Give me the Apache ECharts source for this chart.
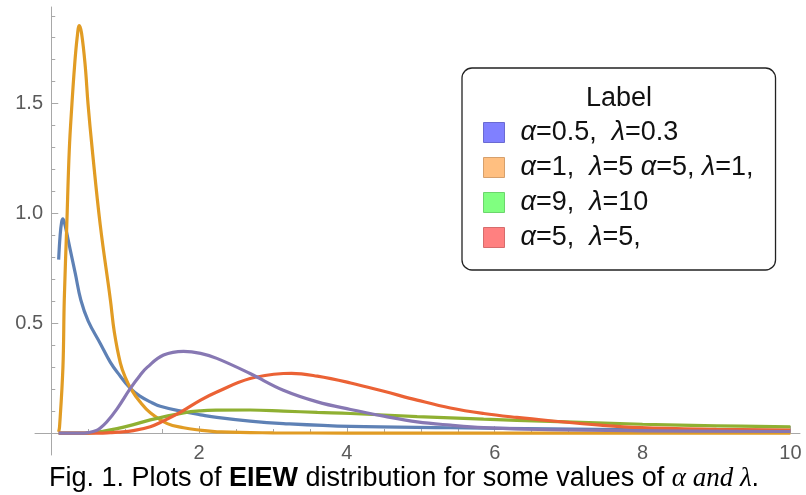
<!DOCTYPE html>
<html>
<head>
<meta charset="utf-8">
<script src="https://cdn.jsdelivr.net/npm/echarts@6/dist/echarts.min.js"></script>
<style>
html,body{margin:0;padding:0;background:#fff;}
#chart{width:806px;height:495px;}
</style>
</head>
<body>
<div id="chart"></div>
<script>
// ---- Data ----
const seriesNames = ['α=0.5,  λ=0.3', 'α=1,  λ=5 α=5, λ=1,', 'α=9,  λ=10', 'α=5,  λ=5,', 'α=5, λ=1'];
const legendNames = ['α=0.5,  λ=0.3', 'α=1,  λ=5 α=5, λ=1,', 'α=9,  λ=10', 'α=5,  λ=5,'];

const blueData = [[0.10,0.79],[0.12,0.90],[0.14,0.96],[0.157,0.975],[0.18,0.955],[0.21,0.91],[0.257,0.834],[0.325,0.727],[0.40,0.606],[0.50,0.51],[0.663,0.408],[0.80,0.322],[0.90,0.274],[1.07,0.203],[1.20,0.168],[1.34,0.142],[1.475,0.122],[1.79,0.097],[2.02,0.083],[2.24,0.071],[2.69,0.054],[3.14,0.043],[4.05,0.030],[5.40,0.024],[6.75,0.019],[8.0,0.015],[10.0,0.011]];
const orangeData = [[0.10,0.005],[0.112,0.028],[0.158,0.30],[0.176,0.606],[0.21,0.947],[0.244,1.29],[0.28,1.50],[0.315,1.67],[0.35,1.80],[0.379,1.855],[0.41,1.82],[0.46,1.67],[0.497,1.50],[0.555,1.29],[0.663,0.947],[0.80,0.606],[0.853,0.46],[0.934,0.32],[1.0,0.255],[1.08,0.20],[1.2,0.142],[1.34,0.092],[1.57,0.043],[1.79,0.024],[1.97,0.015],[2.3,0.005],[3.0,0.001],[4.0,0],[10.0,0]];
const greenData = [[0.10,0],[0.5,0],[0.6,0.003],[0.7,0.008],[0.89,0.02],[1.1,0.037],[1.34,0.06],[1.79,0.092],[2.02,0.101],[2.24,0.104],[2.69,0.105],[3.14,0.100],[3.60,0.094],[4.05,0.089],[4.95,0.075],[5.85,0.063],[6.75,0.053],[8.0,0.040],[9.0,0.033],[10.0,0.028]];
const redData = [[0.10,0],[0.65,0],[0.8,0.002],[0.9,0.004],[1.11,0.011],[1.34,0.029],[1.5,0.052],[1.75,0.095],[2.02,0.150],[2.24,0.187],[2.69,0.248],[3.14,0.271],[3.25,0.272],[3.60,0.259],[4.05,0.228],[4.5,0.19],[4.95,0.15],[5.40,0.114],[5.85,0.089],[6.30,0.071],[6.75,0.056],[7.43,0.036],[7.97,0.025],[9.0,0.017],[10.0,0.013]];
const purpleData = [[0.10,0],[0.45,0],[0.5,0.002],[0.6,0.01],[0.66,0.022],[0.75,0.05],[0.89,0.11],[1.07,0.203],[1.20,0.262],[1.30,0.30],[1.52,0.355],[1.79,0.372],[2.02,0.363],[2.24,0.34],[2.69,0.271],[3.14,0.195],[3.60,0.142],[4.05,0.107],[4.5,0.077],[4.95,0.051],[5.40,0.036],[5.85,0.025],[6.75,0.015],[8.0,0.010],[10.0,0.007]];

const xTickMinor = [0.5,1,1.5,2.5,3,3.5,4.5,5,5.5,6.5,7,7.5,8.5,9,9.5];
const xTickMajor = [2,4,6,8,10];
const xLabels = [2,4,6,8,10];
const yTickMinor = [0.1,0.2,0.3,0.4,0.6,0.7,0.8,0.9,1.1,1.2,1.3,1.4,1.6,1.7,1.8,1.9];
const yTickMajor = [0.5,1.0,1.5];
const yLabels = [0.5,1.0,1.5];

// ---- Styles ----
const lineColors = ['#5E81B5','#E19C24','#8FB032','#EB6235','#8778B3'];
const swatchFill = ['#8080ff','#ffbf80','#80ff80','#ff8080'];
const swatchBorder = ['#6a6ad2','#d6a06c','#6cd66c','#d66c6c'];
const dataSets = [blueData, orangeData, greenData, redData, purpleData];

const axisGray = '#a8a8a8';
const labelGray = '#5a5a5a';
const baseFont = "'Liberation Sans', Arial, sans-serif";

const xRange = {min: -0.22, max: 10.13};
const yRange = {min: -0.1, max: 1.94};

function xAxisDef(major) {
  return {
    type: 'value', position: 'bottom', min: xRange.min, max: xRange.max,
    axisLine: {show: !major, onZero: true, onZeroAxisIndex: 0, lineStyle: {color: axisGray, width: 1}},
    axisTick: {show: true, inside: true, length: major ? 7 : 4, customValues: major ? xTickMajor : xTickMinor,
               lineStyle: {color: axisGray, width: 1}},
    axisLabel: major ? {show: false} : {show: true, customValues: xLabels, color: labelGray, fontSize: 20,
               fontFamily: baseFont, margin: -12, formatter: v => String(v)},
    splitLine: {show: false}
  };
}
function yAxisDef(major) {
  return {
    type: 'value', position: 'left', min: yRange.min, max: yRange.max,
    axisLine: {show: !major, onZero: true, onZeroAxisIndex: 0, lineStyle: {color: axisGray, width: 1}},
    axisTick: {show: true, inside: true, length: major ? 7 : 4, customValues: major ? yTickMajor : yTickMinor,
               lineStyle: {color: axisGray, width: 1}},
    axisLabel: major ? {show: false} : {show: true, customValues: yLabels, color: labelGray, fontSize: 20,
               fontFamily: baseFont, margin: -8, formatter: v => v.toFixed(1)},
    splitLine: {show: false}
  };
}

const chart = echarts.init(document.getElementById('chart'), null, {renderer: 'canvas'});
const option = {
  animation: false,
  backgroundColor: '#ffffff',
  grid: {left: 35, right: 6, top: 7, bottom: 40, containLabel: false, outerBoundsMode: 'none'},
  xAxis: [xAxisDef(false), xAxisDef(true)],
  yAxis: [yAxisDef(false), yAxisDef(true)],
  legend: {
    show: true, orient: 'vertical', left: 462, top: 68,
    selectedMode: false, icon: 'rect', itemWidth: 21, itemHeight: 20, itemGap: 8,
    padding: [51, 22, 19, 21],
    borderColor: '#222', borderWidth: 1.3, borderRadius: 10, backgroundColor: '#fff',
    textStyle: {fontSize: 27, lineHeight: 25, color: '#111', fontFamily: baseFont, padding: [0,0,0,11],
                rich: {i: {fontStyle: 'italic', fontSize: 27, fontFamily: baseFont, color: '#111'}}},
    formatter: name => name.replace(/[αλ]/g, c => '{i|' + c + '}'),
    data: legendNames.map((n, i) => ({name: n, itemStyle: {color: swatchFill[i], borderColor: swatchBorder[i], borderWidth: 1}}))
  },
  graphic: [
    {type: 'text', x: 619, y: 99, z: 100,
     style: {text: 'Label', fontSize: 27, fontFamily: baseFont, fill: '#111', textAlign: 'center', textVerticalAlign: 'middle'}},
    {type: 'text', x: 49, y: 479, z: 100,
     style: {
       text: '{n|Fig. 1. Plots of }{b|EIEW}{n| distribution for some values of }{m|α and λ}{n|.}',
       textVerticalAlign: 'middle',
       rich: {
         n: {fontSize: 27, fontFamily: baseFont, fill: '#000'},
         b: {fontSize: 27, fontFamily: baseFont, fontWeight: 'bold', fill: '#000'},
         m: {fontSize: 27, fontFamily: "'Liberation Serif', 'DejaVu Serif', serif", fontStyle: 'italic', fill: '#000'}
       }
     }}
  ],
  series: dataSets.map((d, i) => ({
    name: seriesNames[i], type: 'line', data: d, xAxisIndex: 0, yAxisIndex: 0,
    showSymbol: false, symbol: 'none', smooth: 0.4, clip: true,
    lineStyle: {color: lineColors[i], width: 3.2}, itemStyle: {color: lineColors[i]},
    z: 2 + i
  }))
};
chart.setOption(option);
</script>
</body>
</html>
